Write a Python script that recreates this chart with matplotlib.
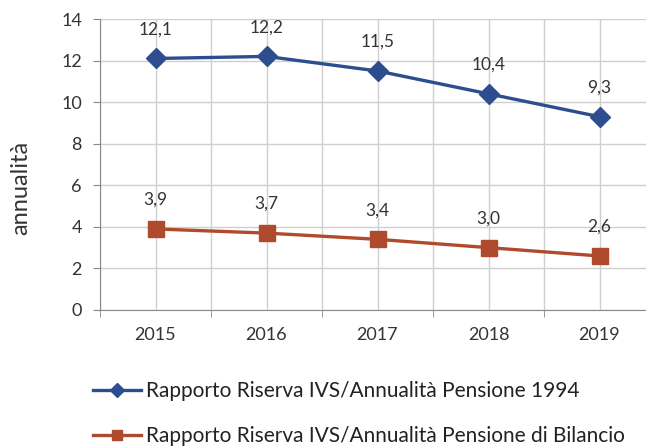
import matplotlib
matplotlib.use('Agg')
import matplotlib.pyplot as plt
import numpy as np

# dati
anni = ['2015', '2016', '2017', '2018', '2019']
rapporto_1994 = [12.1, 12.2, 11.5, 10.4, 9.3]
rapporto_bilancio = [3.9, 3.7, 3.4, 3.0, 2.6]
etichette = ['Rapporto Riserva IVS/Annualità Pensione 1994',
             'Rapporto Riserva IVS/Annualità Pensione di Bilancio']

plt.rcParams['font.family'] = ['Lato', 'DejaVu Sans']

fig = plt.figure(figsize=(6.46, 4.46), dpi=100)
ax = fig.add_axes([100 / 646, 1 - 310 / 446, 555 / 646, 291 / 446])

x = np.arange(len(anni))
blu = '#2E4D8E'
rosso = '#B04A2C'
ax.plot(x, rapporto_1994, color=blu, lw=2.4, marker='D', ms=10, label=etichette[0], zorder=3)
ax.plot(x, rapporto_bilancio, color=rosso, lw=2.4, marker='s', ms=11, label=etichette[1], zorder=3)

# etichette dei valori
for serie in (rapporto_1994, rapporto_bilancio):
    for xi, v in zip(x, serie):
        ax.annotate(f'{v:.1f}'.replace('.', ','), (xi, v), xytext=(0, 21),
                    textcoords='offset points', ha='center', va='center',
                    fontsize=12.5, color='#333333')

ax.set_xlim(-0.5, 4.5)
ax.set_ylim(0, 14)
ax.set_yticks(range(0, 15, 2))
ax.set_xticks(x)
ax.set_xticklabels(anni)
ax.set_xticks(np.arange(-0.5, 5, 1), minor=True)
ax.grid(True, which='both', color='#cfcfcf', lw=1)
ax.set_axisbelow(True)
ax.tick_params(axis='x', which='major', length=0, pad=12, labelsize=13, colors='#333333')
ax.tick_params(axis='x', which='minor', length=5, color='#888888')
ax.tick_params(axis='y', length=5, color='#888888', pad=8, labelsize=13, labelcolor='#333333')
for s in ['top', 'right']:
    ax.spines[s].set_visible(False)
ax.spines['left'].set_color('#888888')
ax.spines['bottom'].set_color('#888888')
ax.set_ylabel('annualità', fontsize=17, color='#333333')
ax.yaxis.set_label_coords(-0.124, 0.42)

leg = fig.legend(loc='upper left', bbox_to_anchor=(93 / 646, 1 - 381 / 446), frameon=False,
                 fontsize=15, handlelength=2.3, handletextpad=0.25, labelspacing=1.2,
                 borderaxespad=0, borderpad=0, labelcolor='#222222')
for h in leg.legend_handles:
    h.set_markersize(7.5)

plt.savefig('out.png', dpi=100)
